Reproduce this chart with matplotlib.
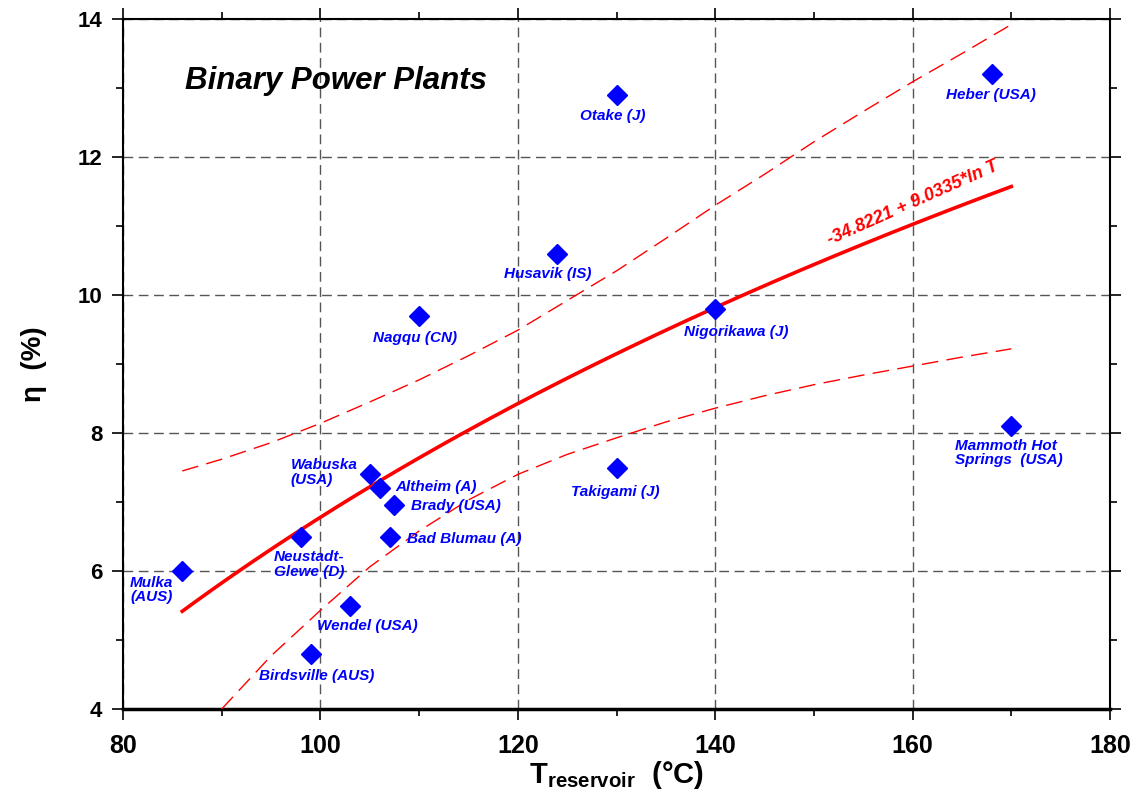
import numpy as np
import matplotlib
matplotlib.use("Agg")
import matplotlib.pyplot as plt
from matplotlib.ticker import MultipleLocator

plt.rcParams["font.family"] = ["Liberation Sans", "DejaVu Sans"]
plt.rcParams["mathtext.fontset"] = "custom"
plt.rcParams["mathtext.rm"] = "Liberation Sans"
plt.rcParams["mathtext.bf"] = "Liberation Sans:bold"

# ── data ────────────────────────────────────────────────────────────────
plants = ["Mulka\n(AUS)", "Neustadt-\nGlewe (D)", "Birdsville (AUS)", "Wendel (USA)",
          "Wabuska\n(USA)", "Altheim (A)", "Brady (USA)", "Bad Blumau (A)",
          "Nagqu (CN)", "Husavik (IS)", "Otake (J)", "Takigami (J)",
          "Nigorikawa (J)", "Heber (USA)", "Mammoth Hot\nSprings  (USA)"]
t_res = [86.0, 98.0, 99.0, 103.0, 105.0, 106.0, 107.5, 107.0,
         110.0, 124.0, 130.0, 130.0, 140.0, 168.0, 170.0]
eta = [6.0, 6.5, 4.8, 5.5, 7.4, 7.2, 6.95, 6.5,
       9.7, 10.6, 12.9, 7.5, 9.8, 13.2, 8.1]

# fit shown in the chart: eta = a + b*ln T
fit_a, fit_b = -34.8221, 9.0335
fit_range = (86, 170)

# confidence band (dashed)
upper_t = [86, 90, 95, 100, 105, 110, 115, 120, 125, 130, 135, 140,
           145, 150, 155, 160, 165, 170]
upper_eta = [7.45, 7.62, 7.86, 8.14, 8.45, 8.77, 9.12, 9.49, 9.92, 10.35, 10.82, 11.30,
             11.75, 12.22, 12.66, 13.09, 13.50, 13.92]
lower_t = [90, 95, 100, 105, 110, 115, 120, 125, 130, 135, 140,
           145, 150, 155, 160, 165, 170]
lower_eta = [4.0, 4.77, 5.43, 6.06, 6.58, 7.03, 7.40, 7.69, 7.93, 8.16, 8.36,
             8.54, 8.70, 8.84, 8.97, 9.10, 9.22]

# label offsets in pixels (dx, dy-down) and alignment
label_style = [(-31, 19, "center"), (-27, 28, "left"), (6, 22, "center"), (17, 20, "center"),
               (-79, -2, "left"), (16, -1, "left"), (17, 1, "left"), (17, 2, "left"),
               (-4, 22, "center"), (-10, 20, "center"), (-4, 21, "center"), (-1, 24, "center"),
               (21, 23, "center"), (-1, 21, "center"), (-56, 27, "left")]

fig = plt.figure(figsize=(11.38, 7.96), dpi=100)
ax = fig.add_axes([0.1081, 0.1093, 0.8673, 0.8668])

ax.set_xlim(80, 180)
ax.set_ylim(4, 14)
ax.xaxis.set_major_locator(MultipleLocator(20))
ax.xaxis.set_minor_locator(MultipleLocator(10))
ax.yaxis.set_major_locator(MultipleLocator(2))
ax.yaxis.set_minor_locator(MultipleLocator(1))
ax.tick_params(which="both", direction="out", top=True, right=True, width=1.2)
ax.tick_params(which="major", length=8)
ax.tick_params(which="minor", length=5)
ax.tick_params(axis="x", labelsize=18, pad=10)
ax.tick_params(axis="y", labelsize=16, pad=7)
for lbl in ax.get_xticklabels() + ax.get_yticklabels():
    lbl.set_fontweight("bold")
for side, lw in [("left", 1.5), ("top", 1.5), ("right", 1.5), ("bottom", 2.5)]:
    ax.spines[side].set_linewidth(lw)

ax.grid(True, which="major", color="#555555", linestyle=(0, (7, 4)), linewidth=1.0)
ax.set_axisbelow(True)

# fit curve
tt = np.linspace(fit_range[0], fit_range[1], 200)
ax.plot(tt, fit_a + fit_b * np.log(tt), color="red", linewidth=2.6, zorder=3)
ax.plot(upper_t, upper_eta, color="red", linewidth=1.0, linestyle=(0, (12, 6)), zorder=3)
ax.plot(lower_t, lower_eta, color="red", linewidth=1.0, linestyle=(0, (12, 6)), zorder=3)

ax.plot(t_res, eta, linestyle="none", marker="D", markersize=10.5,
        color="#0000ff", zorder=4)

for name, x, y, (dx, dy, ha) in zip(plants, t_res, eta, label_style):
    ax.annotate(name, (x, y), xytext=(dx * 0.72, -dy * 0.72), textcoords="offset points",
                ha=ha, va="center", fontsize=11, fontweight="bold", fontstyle="italic",
                color="#0000ff", linespacing=1.05, zorder=5)

ax.text(160.0, 11.33, "-34.8221 + 9.0335*ln T", color="red", fontsize=13,
        fontweight="bold", fontstyle="italic", rotation=24,
        ha="center", va="center", rotation_mode="anchor")

ax.text(0.216, 0.910, "Binary Power Plants", transform=ax.transAxes, ha="center",
        va="center", fontsize=22.5, fontweight="bold", fontstyle="italic")

fig.text(0.5415, 0.0163, r"$\mathbf{T}_{\mathbf{reservoir}}$" + "  (°C)", ha="center",
         va="baseline", fontsize=21, fontweight="bold")
ax.set_ylabel("η  (%)", fontsize=20, fontweight="bold", labelpad=22)

fig.savefig("out.png", dpi=100)
